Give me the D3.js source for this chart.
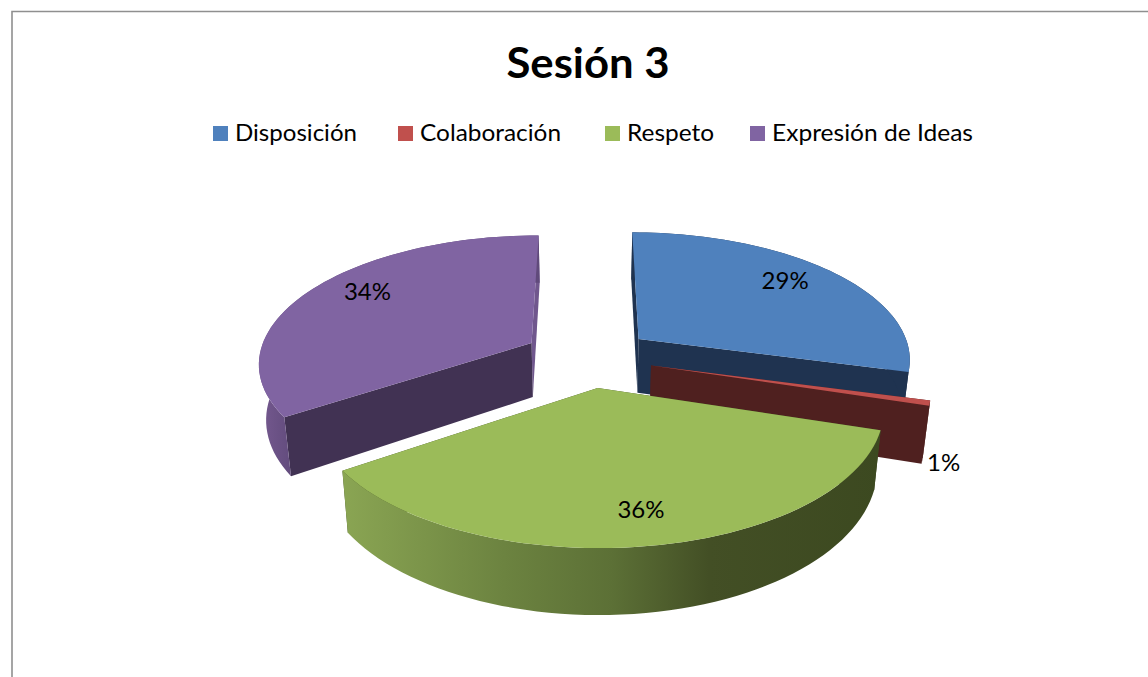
<!DOCTYPE html>
<html>
<head>
<meta charset="utf-8">
<title>Sesión 3</title>
<script src="https://cdn.jsdelivr.net/npm/d3@7"></script>
<style>
  html, body { margin: 0; padding: 0; background: #fff; overflow: hidden; }
  text { font-family: Lato, "Open Sans", sans-serif; fill: #000; }
</style>
</head>
<body>
<div id="container"></div>
<script>
/* DATA */
const categories = ["Disposición", "Colaboración", "Respeto", "Expresión de Ideas"];
const values = [29.2, 0.6, 35.8, 34.4];
const chartTitle = "Sesión 3";

/* COLOURS */
const topColors = ["#4f81bd", "#c0504d", "#9bbb59", "#8064a2"];
const faceColors = ["#1f3350", "#4f201f", "#3e4a23", "#413253"];

/* LAYOUT */
const width = 1148;
const height = 677;
const legendX = [213, 398, 605, 750];
const legendW = [122, 141, 87, 201];
const labelNudge = [[-9, -3], [10, 0], [5, 0], [13, -7]];

// flat pie geometry, projected with a bit of perspective
const cx = 588, cy = 357;
const radius = 273, explode = 65, depth = 55;
const tilt = 0.465, persp = 0.000531, baseShrink = 0.978;

const project = (x, y, z) => {
  const w = 1 - persp * y;
  const shrink = z > 0 ? baseShrink : 1;
  return [cx + x / w * shrink, cy + (tilt * y + z) / w];
};

const svg = d3.select("#container")
  .append("svg")
  .attr("width", width)
  .attr("height", height)
  .style("display", "block");

// chart frame, cut off by the screenshot on the right and bottom
svg.append("path")
  .attr("d", `M12,${height}V11.5H${width}`)
  .attr("fill", "none")
  .attr("stroke", "#8f8f8f")
  .attr("stroke-width", 1.6);

/* TITLE + LEGEND */
svg.append("text")
  .attr("x", 588)
  .attr("y", 78)
  .attr("text-anchor", "middle")
  .attr("textLength", 163)
  .attr("lengthAdjust", "spacingAndGlyphs")
  .style("font-size", "42px")
  .style("font-weight", 700)
  .text(chartTitle);

const legend = svg.selectAll(".legend")
  .data(categories)
  .join("g")
  .attr("class", "legend")
  .attr("transform", (d, i) => `translate(${legendX[i]},126)`);

legend.append("rect")
  .attr("width", 15)
  .attr("height", 15)
  .attr("fill", (d, i) => topColors[i]);

legend.append("text")
  .attr("x", 22)
  .attr("y", 15)
  .attr("textLength", (d, i) => legendW[i])
  .attr("lengthAdjust", "spacingAndGlyphs")
  .style("font-size", "24px")
  .text(d => d);

/* GRADIENTS for the outer rims */
const defs = svg.append("defs");

const greenRim = defs.append("linearGradient")
  .attr("id", "rim2")
  .attr("gradientUnits", "userSpaceOnUse")
  .attr("x1", 343).attr("x2", 881)
  .attr("y1", 0).attr("y2", 0);
[[0, "#8aa553"], [0.3, "#6c8340"], [0.5, "#5c7036"], [0.68, "#434f25"], [1, "#3c4920"]]
  .forEach(s => greenRim.append("stop").attr("offset", s[0]).attr("stop-color", s[1]));

const purpleRim = defs.append("linearGradient")
  .attr("id", "rim3")
  .attr("gradientUnits", "userSpaceOnUse")
  .attr("x1", 260).attr("x2", 295)
  .attr("y1", 0).attr("y2", 0);
[[0, "#75598f"], [1, "#604a7b"]]
  .forEach(s => purpleRim.append("stop").attr("offset", s[0]).attr("stop-color", s[1]));

/* PIE */
const slices = d3.pie().sort(null)(values);
const line = d3.line();

slices.forEach(s => {
  const mid = (s.startAngle + s.endAngle) / 2;
  s.ox = explode * Math.sin(mid);
  s.oy = -explode * Math.cos(mid);
  s.at = (a, r, z) => project(s.ox + r * Math.sin(a), s.oy - r * Math.cos(a), z);
  s.arc = z => d3.range(0, 61)
    .map(t => s.at(s.startAngle + (s.endAngle - s.startAngle) * t / 60, radius, z));
});

// back to front: blue, red, purple, green
[0, 1, 3, 2].forEach(i => {
  const s = slices[i];
  const g = svg.append("g").attr("class", "slice");
  const apex = z => s.at(0, 0, z);

  const face = (a, fill) => g.append("path")
    .attr("d", line([apex(0), s.at(a, radius, 0), s.at(a, radius, depth), apex(depth)]) + "Z")
    .attr("fill", fill);

  if (i === 3) {
    face(s.endAngle, "#70578d");
    face(s.startAngle, faceColors[i]);
  } else {
    face(s.startAngle, faceColors[i]);
    face(s.endAngle, faceColors[i]);
  }

  // outer rim
  g.append("path")
    .attr("d", line(s.arc(0).concat(s.arc(depth).reverse())) + "Z")
    .attr("fill", i === 2 ? "url(#rim2)" : i === 3 ? "url(#rim3)" : faceColors[i]);

  // top
  g.append("path")
    .attr("d", line([apex(0)].concat(s.arc(0))) + "Z")
    .attr("fill", topColors[i]);
});

/* LABELS */
const pct = d3.format(".0f");
slices.forEach((s, i) => {
  // the tiny slice gets its label outside, next to the bottom of its face
  const outside = s.value < 5;
  const mid = (s.startAngle + s.endAngle) / 2;
  const p = s.at(mid, radius * (outside ? 1.04 : 0.8), outside ? depth : 0);
  svg.append("text")
    .attr("x", p[0] + labelNudge[i][0])
    .attr("y", p[1] + 8 + labelNudge[i][1])
    .attr("text-anchor", "middle")
    .style("font-size", "24px")
    .text(pct(s.value) + "%");
});
</script>
</body>
</html>
